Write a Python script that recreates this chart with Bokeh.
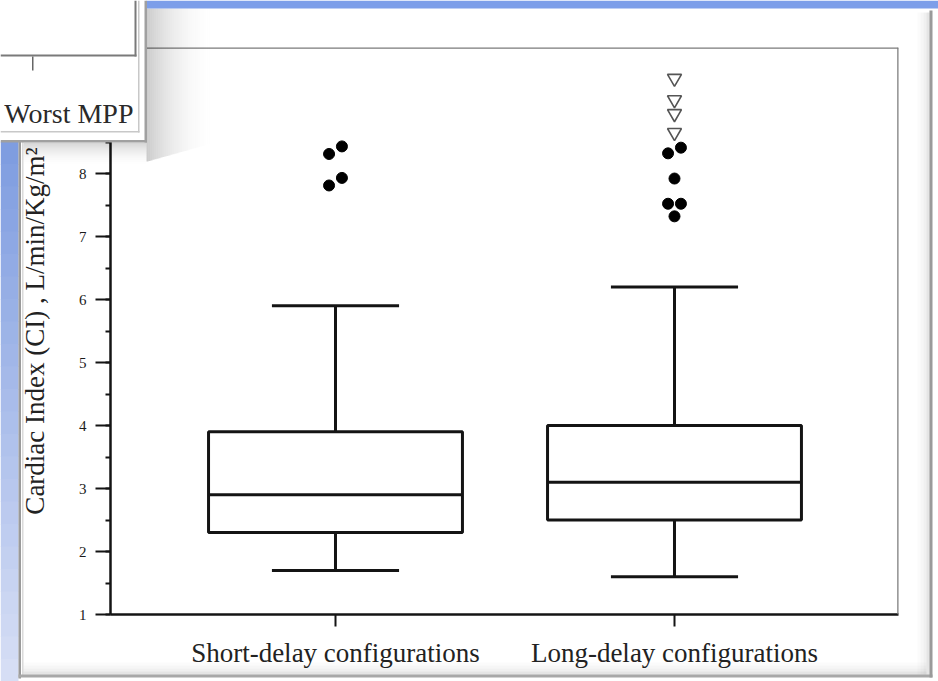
from bokeh.plotting import figure
from bokeh.models import (Range1d, FixedTicker, SingleIntervalTicker, Span, ColumnDataSource)
from bokeh.core.properties import value
from bokeh.embed import file_html
from bokeh.resources import INLINE

# ---------------- data ----------------
categories = ["Short-delay configurations", "Long-delay configurations"]
whisker_low = [1.7, 1.6]
q1 = [2.3, 2.5]
median = [2.9, 3.1]
q3 = [3.9, 4.0]
whisker_high = [5.9, 6.2]

# outliers (filled circles)
dot_cat = [0, 0, 0, 0, 1, 1, 1, 1, 1, 1]
dot_val = [7.81, 7.93, 8.31, 8.43, 7.32, 7.52, 7.52, 7.92, 8.32, 8.41]
dot_jitter = [-0.019, 0.019, -0.019, 0.019, 0.0, -0.019, 0.019, 0.0, -0.019, 0.019]

# extreme outliers (open down-triangles)
tri_cat = [1, 1, 1, 1]
tri_val = [8.65, 8.95, 9.17, 9.51]

y_axis_label = "Cardiac Index (CI) , L/min/Kg/m\u00b2"
inset_label = "Worst MPP"

# ---------------- layout constants (page pixels) ----------------
W, H = 938, 681
FL, FR, FT, FB = 110, 898, 47, 614   # frame edges
SERIF = "Liberation Serif"

p = figure(width=W, height=H, output_backend="svg", toolbar_location=None,
           x_range=Range1d(-0.1637, 2.1608), y_range=Range1d(1, 10),
           min_border_left=FL, min_border_right=W - FR,
           min_border_top=FT, min_border_bottom=H - FB,
           background_fill_color="white", border_fill_color="white",
           outline_line_color=None)
p.grid.visible = False

xs = [i + 0.5 for i in range(len(categories))]
BOX_W = 0.749
CAP_W = 0.375
LC = "#141414"
LW = 3

# whiskers
p.segment(x0=xs, x1=xs, y0=q3, y1=whisker_high, line_color=LC, line_width=LW)
p.segment(x0=xs, x1=xs, y0=whisker_low, y1=q1, line_color=LC, line_width=LW)
# caps
p.segment(x0=[x - CAP_W / 2 for x in xs], x1=[x + CAP_W / 2 for x in xs],
          y0=whisker_high, y1=whisker_high, line_color=LC, line_width=LW)
p.segment(x0=[x - CAP_W / 2 for x in xs], x1=[x + CAP_W / 2 for x in xs],
          y0=whisker_low, y1=whisker_low, line_color=LC, line_width=LW)
# boxes
p.vbar(x=xs, width=BOX_W, bottom=q1, top=q3, fill_color="white",
       line_color=LC, line_width=LW)
# medians
p.segment(x0=[x - BOX_W / 2 for x in xs], x1=[x + BOX_W / 2 for x in xs],
          y0=median, y1=median, line_color=LC, line_width=LW)

# outliers
dsrc = ColumnDataSource(dict(x=[xs[c] + j for c, j in zip(dot_cat, dot_jitter)], y=dot_val))
p.scatter("x", "y", source=dsrc, size=11, fill_color="black", line_color="black")
tsrc = ColumnDataSource(dict(x=[xs[c] for c in tri_cat], y=tri_val))
p.scatter("x", "y", source=tsrc, marker="inverted_triangle", size=14,
          fill_color="white", line_color="#555555", line_width=1.6)

# axes
yax = p.yaxis[0]
yax.ticker = SingleIntervalTicker(interval=1, num_minor_ticks=2)
yax.axis_label = y_axis_label
yax.axis_label_text_font = SERIF
yax.axis_label_text_font_size = "27px"
yax.axis_label_text_font_style = "normal"
yax.axis_label_text_color = "#222222"
yax.axis_label_standoff = 19
yax.major_label_text_font = SERIF
yax.major_label_text_font_size = "15px"
yax.major_label_text_color = "#1a1a1a"
yax.major_label_standoff = 9
yax.axis_line_color = LC
yax.axis_line_width = 2.5
yax.major_tick_line_color = LC
yax.major_tick_line_width = 2
yax.major_tick_out = 15
yax.major_tick_in = 0
yax.minor_tick_line_color = LC
yax.minor_tick_line_width = 2
yax.minor_tick_out = 5
yax.minor_tick_in = 0

xax = p.xaxis[0]
xax.ticker = FixedTicker(ticks=xs)
xax.major_label_overrides = {x: c for x, c in zip(xs, categories)}
xax.major_label_text_font = SERIF
xax.major_label_text_font_size = "27px"
xax.major_label_text_color = "#222222"
xax.major_label_standoff = 11
xax.axis_line_color = LC
xax.axis_line_width = 2.5
xax.major_tick_line_color = LC
xax.major_tick_line_width = 2
xax.major_tick_out = 12
xax.major_tick_in = 0
xax.minor_tick_line_color = None

# top & right frame borders (gray)
p.add_layout(Span(location=10, dimension="width", line_color="#7a7a7a", line_width=2.5))
p.add_layout(Span(location=2.1608, dimension="height", line_color="#7a7a7a", line_width=2.5))

# ---------------- slide decoration overlay (page pixel space, y down) ----------------
ov = figure(width=W, height=H, output_backend="svg", toolbar_location=None,
            x_range=Range1d(0, W), y_range=Range1d(H, 0),
            x_axis_type=None, y_axis_type=None,
            min_border=0, min_border_left=0, min_border_right=0,
            min_border_top=0, min_border_bottom=0,
            background_fill_alpha=0, border_fill_alpha=0, outline_line_color=None)
ov.styles = {"position": "absolute", "top": "0px", "left": "0px"}

rects = dict(l=[], r=[], t=[], b=[], c=[], a=[])


def box(x0, y0, x1, y1, color, alpha=1.0):
    rects["l"].append(x0)
    rects["r"].append(x1)
    rects["t"].append(y0)
    rects["b"].append(y1)
    rects["c"].append(color)
    rects["a"].append(alpha)


def lerp(c0, c1, t):
    a = [int(c0[i:i + 2], 16) for i in (1, 3, 5)]
    b = [int(c1[i:i + 2], 16) for i in (1, 3, 5)]
    return "#%02x%02x%02x" % tuple(round(a[k] + (b[k] - a[k]) * t) for k in range(3))


# soft inset shadow: smooth horizontal fall-off to the right of the card
NS = 36
for k in range(NS):
    t = k / NS
    a = 0.20 * (1 - t) ** 2.2
    box(146 + 2 * k, 8, 148 + 2 * k, 141 + 20 * (1 - t), "#000000", a)
# soft shadow below the card
NB = 12
for k in range(NB):
    t = k / NB
    a = 0.16 * (1 - t) ** 2
    box(23, 142 + 2 * k, 146, 144 + 2 * k, "#000000", a)

# top blue bar
box(146, 0, W, 8, "#7c9ee9")
# left blue strip (gradient)
N = 24
step = (H - 141) / N
for i in range(N):
    y0 = 141 + i * step
    box(0, y0, 18, y0 + step + 0.6, lerp("#7f9de0", "#d6def5", i / (N - 1)))
# panel borders
box(18, 141, 20.5, 678, "#9a9a9a")
box(21.5, 141, 23, 676, "#dadada")
box(18, 674, 932, 677, "#a8a8a8")
box(929, 10, 932, 677, "#9a9a9a")
for i, a in enumerate([0.10, 0.06, 0.035, 0.015]):
    box(926 - i * 3, 12, 929 - i * 3, 674, "#000000", a)
    box(23, 671 - i * 3, 926, 674 - i * 3, "#000000", a)

# inset card
box(0, 0, 146, 141, "white")
box(144, 0, 146.5, 142, "#a0a0a0")
box(0, 139.5, 146.5, 142, "#a0a0a0")
box(137.5, 0, 139, 132, "#c8c8c8")
box(0, 130.5, 139, 132, "#c8c8c8")
# inset plot frame and tick
box(134, 0, 136, 56, "#7a7a7a")
box(0, 54, 136, 56, "#7a7a7a")
box(31.5, 56, 33, 70, "#666666")

ov.quad(left="l", right="r", top="t", bottom="b", fill_color="c", fill_alpha="a",
        line_color=None, source=ColumnDataSource(rects))
ov.text(x=[133], y=[113], text=[inset_label], text_align="right",
        text_baseline="alphabetic", text_font=value(SERIF), text_font_size="28px",
        text_color="#2a2a2a")

# two roots: the chart, and the slide-decoration overlay positioned on top of it
open("out.html", "w").write(file_html([p, ov], INLINE))
